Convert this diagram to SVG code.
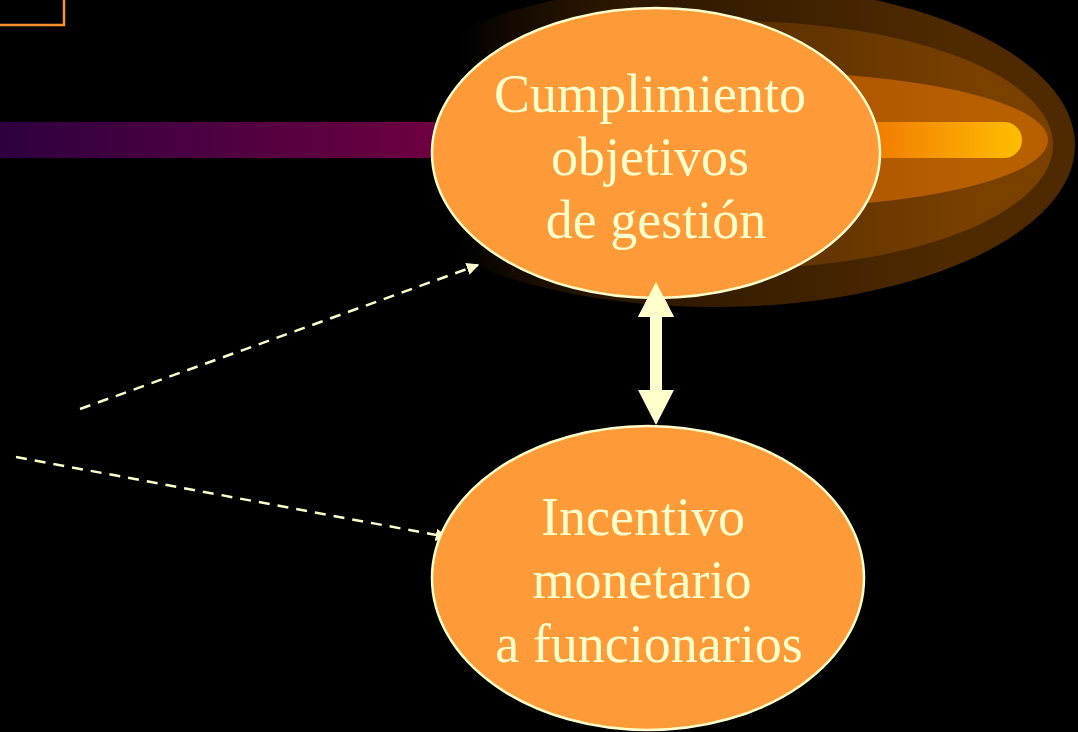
<svg xmlns="http://www.w3.org/2000/svg" width="1078" height="732" viewBox="0 0 1078 732">
<defs>
<style>
.node{fill:#FF9A38;stroke:#FFFFCC;stroke-width:2.5}
.lbl{font-family:"Liberation Serif","Times New Roman",serif;font-size:54px;fill:#FFFFCC;text-anchor:middle}
.dash{stroke:#FFFFCC;stroke-width:2.5;stroke-dasharray:11,8;fill:none}
</style>
<linearGradient id="purple" x1="0" y1="0" x2="440" y2="0" gradientUnits="userSpaceOnUse">
<stop offset="0" stop-color="#2e0040"/><stop offset="1" stop-color="#6e0040"/>
</linearGradient>
<linearGradient id="g1" x1="460" y1="0" x2="950" y2="0" gradientUnits="userSpaceOnUse">
<stop offset="0" stop-color="#3a1e00" stop-opacity="0"/><stop offset="0.3" stop-color="#2a1600"/><stop offset="1" stop-color="#4f2a00"/>
</linearGradient>
<linearGradient id="g2" x1="520" y1="0" x2="980" y2="0" gradientUnits="userSpaceOnUse">
<stop offset="0" stop-color="#6a3800" stop-opacity="0"/><stop offset="0.5" stop-color="#5a3000"/><stop offset="1" stop-color="#7a4000"/>
</linearGradient>
<linearGradient id="g3" x1="640" y1="0" x2="1000" y2="0" gradientUnits="userSpaceOnUse">
<stop offset="0" stop-color="#a05000" stop-opacity="0"/><stop offset="0.6" stop-color="#b05800"/><stop offset="1" stop-color="#b86000"/>
</linearGradient>
<linearGradient id="bar" x1="870" y1="0" x2="1022" y2="0" gradientUnits="userSpaceOnUse">
<stop offset="0" stop-color="#f07a00"/><stop offset="1" stop-color="#ffbe00"/>
</linearGradient>
<marker id="ah" viewBox="0 0 10 10" refX="9" refY="5" markerWidth="5" markerHeight="5" orient="auto" markerUnits="strokeWidth">
<path d="M0,0 L10,5 L0,10 z" fill="#FFFFCC"/>
</marker>
</defs>
<rect width="1078" height="732" fill="#000"/>
<g id="decor">
<rect x="-10" y="-10" width="74" height="35" fill="none" stroke="#F7922E" stroke-width="2.5"/>
<rect x="0" y="122" width="440" height="36" fill="url(#purple)"/>
<ellipse cx="715" cy="145" rx="360" ry="162" fill="url(#g1)"/>
<ellipse cx="735" cy="145" rx="318" ry="124" fill="url(#g2)"/>
<ellipse cx="760" cy="140" rx="288" ry="68" fill="url(#g3)"/>
<rect x="860" y="122" width="162" height="36" rx="18" fill="url(#bar)"/>
</g>
<g id="connectors">
<line class="dash" x1="80" y1="409" x2="478" y2="265" marker-end="url(#ah)"/>
<line class="dash" x1="16" y1="457" x2="447" y2="537" marker-end="url(#ah)"/>
<path d="M656,282 L674,317 L662,317 L662,390 L674,390 L656,425 L638,390 L650,390 L650,317 L638,317 z" fill="#FFFFCC"/>
</g>
<g id="node1">
<ellipse class="node" cx="656" cy="153" rx="224" ry="145"/>
<text class="lbl" x="650" y="112">Cumplimiento</text>
<text class="lbl" x="650" y="175">objetivos</text>
<text class="lbl" x="656" y="238">de gestión</text>
</g>
<g id="node2">
<ellipse class="node" cx="648" cy="578" rx="216" ry="152"/>
<text class="lbl" x="643" y="535">Incentivo</text>
<text class="lbl" x="642" y="598">monetario</text>
<text class="lbl" x="649" y="662">a funcionarios</text>
</g>
<g id="fix"><path d="M656,282 L674,317 L638,317 z" fill="#FFFFCC"/></g>
</svg>
